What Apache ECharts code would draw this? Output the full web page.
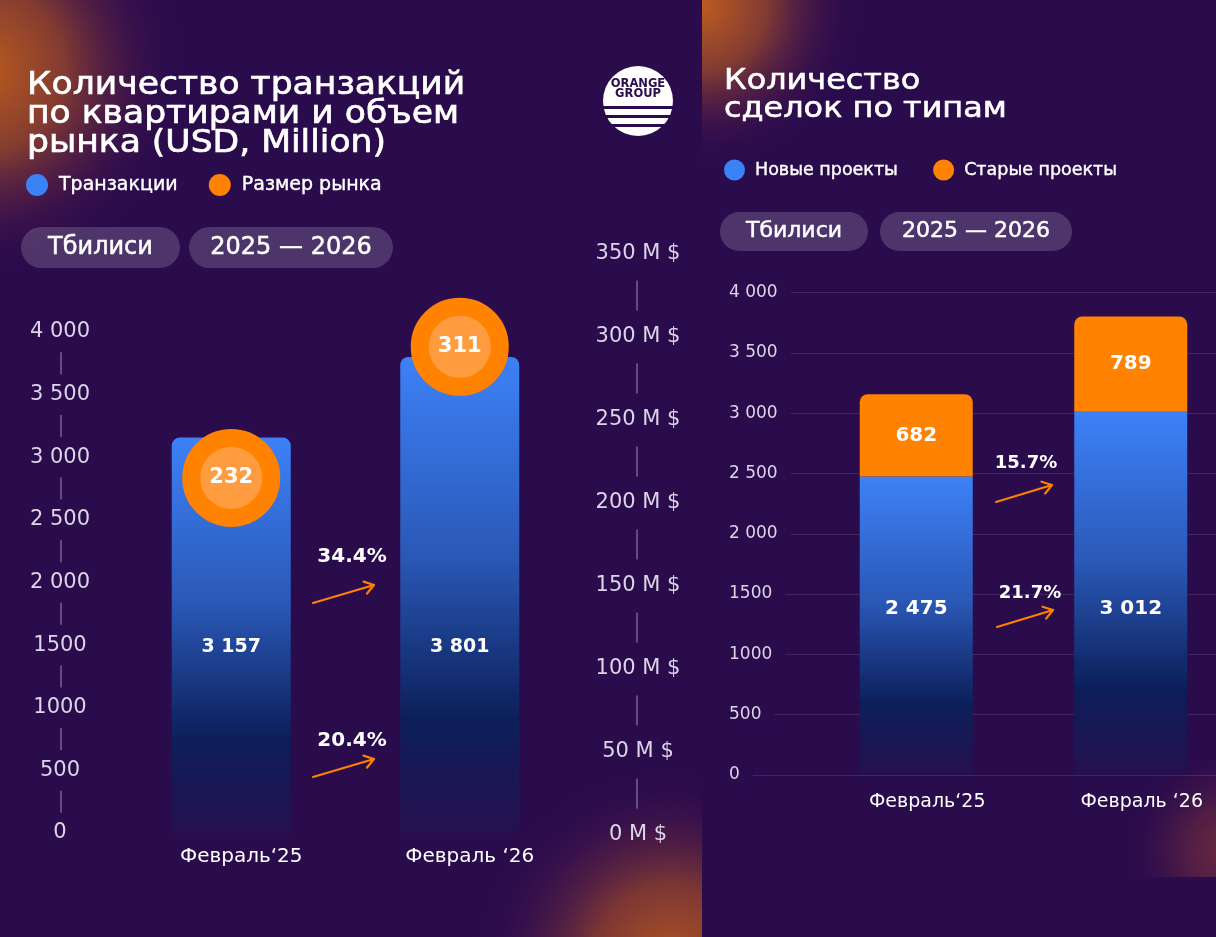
<!DOCTYPE html>
<html>
<head>
<meta charset="utf-8">
<title>Orange Group - сделки</title>
<script src="https://cdn.jsdelivr.net/npm/echarts@6.0.0/dist/echarts.min.js"></script>
<style>
html, body { margin: 0; padding: 0; background: #2a0b4c; }
#chart { width: 1216px; height: 937px; }
</style>
</head>
<body>
<div id="chart"></div>
<script>
// data
var months = ['Февраль‘25', 'Февраль ‘26'];
var transactions = [3157, 3801];
var marketSize = [232, 311];
var newProjects = [2475, 3012];
var oldProjects = [682, 789];
var leftGrowth = ['34.4%', '20.4%'];
var rightGrowth = ['15.7%', '21.7%'];
var countTicks = ['0', '500', '1000', '1500', '2 000', '2 500', '3 000', '3 500', '4 000'];
var usdTicks = ['0 M $', '50 M $', '100 M $', '150 M $', '200 M $', '250 M $', '300 M $', '350 M $'];

var FONT = 'DejaVu Sans';
var BG = '#2a0b4c';
var ORANGE = '#ff8200';
var BLUE = '#3b82f6';
var LABEL = '#dcd5e8';
var PILL = 'rgba(255,255,255,0.17)';

function spaced(v) {
	return String(v).replace(/\B(?=(\d{3})+(?!\d))/g, ' ');
}

function barGradient() {
	return new echarts.graphic.LinearGradient(0, 0, 0, 1, [
		{ offset: 0, color: '#3d81f7' },
		{ offset: 0.42, color: '#2a58b6' },
		{ offset: 0.76, color: '#0c1f5a' },
		{ offset: 1, color: '#26104f' }
	]);
}

// soft orange light in the panel corners
function glow(x, y, w, h, cx, cy, r, rgb, strength) {
	return {
		type: 'rect', z: -5, silent: true,
		shape: { x: x, y: y, width: w, height: h },
		style: {
			fill: new echarts.graphic.RadialGradient(cx, cy, r, [
				{ offset: 0, color: 'rgba(' + rgb + ',' + strength + ')' },
				{ offset: 0.4, color: 'rgba(' + rgb + ',' + (strength * 0.6) + ')' },
				{ offset: 0.75, color: 'rgba(110,40,70,' + (strength * 0.22) + ')' },
				{ offset: 1, color: 'rgba(42,11,76,0)' }
			], true)
		}
	};
}

function pill(x, y, w, h, text, size) {
	return [
		{ type: 'rect', z: 10, shape: { x: x, y: y, width: w, height: h, r: h / 2 }, style: { fill: PILL } },
		{ type: 'text', z: 11, x: x + w / 2, y: y + h / 2, style: { text: text, fill: '#fff', stroke: '#fff', lineWidth: 0.5,
			fontSize: size, fontFamily: FONT, align: 'center', verticalAlign: 'middle' } }
	];
}

function growthNote(text, tx, ty, size, x1, y1, x2, y2) {
	var a = Math.atan2(y2 - y1, x2 - x1), h = 11, s = 0.6;
	var st = { stroke: ORANGE, lineWidth: 2.2, fill: null, lineCap: 'round', lineJoin: 'round' };
	return [
		{ type: 'text', z: 11, x: tx, y: ty, style: { text: text, fill: '#fff', fontSize: size, fontWeight: 'bold', fontFamily: FONT, align: 'center', verticalAlign: 'middle' } },
		{ type: 'polyline', z: 11, shape: { points: [[x1, y1], [x2, y2]] }, style: st },
		{ type: 'polyline', z: 11, shape: { points: [
			[x2 - h * Math.cos(a - s), y2 - h * Math.sin(a - s)], [x2, y2],
			[x2 - h * Math.cos(a + s), y2 - h * Math.sin(a + s)]] }, style: st }
	];
}

var chart = echarts.init(document.getElementById('chart'), null, { renderer: 'canvas', width: 1216, height: 937 });

var legendText = { color: '#fff', fontFamily: FONT, textBorderColor: '#fff', textBorderWidth: 0.4 };

var option = {
	backgroundColor: BG,
	animation: false,
	textStyle: { fontFamily: FONT },
	legend: [{
		left: 21, top: 169, icon: 'circle', itemWidth: 22, itemHeight: 22, itemGap: 31, selectedMode: false,
		textStyle: Object.assign({ fontSize: 19, padding: [0, 0, 0, 6] }, legendText),
		data: [{ name: 'Транзакции', itemStyle: { color: BLUE } }, { name: 'Размер рынка', itemStyle: { color: ORANGE, borderWidth: 0 } }]
	}, {
		left: 719, top: 154.5, icon: 'circle', itemWidth: 21, itemHeight: 21, itemGap: 35, selectedMode: false,
		textStyle: Object.assign({ fontSize: 17.5, padding: [0, 0, 0, 5] }, legendText),
		data: [{ name: 'Новые проекты', itemStyle: { color: BLUE } }, { name: 'Старые проекты', itemStyle: { color: ORANGE } }]
	}],
	grid: [
		{ left: 117, width: 457, top: 332, bottom: 104, outerBoundsMode: 'none', containLabel: false },
		{ left: 117, width: 457, top: 254, bottom: 102, outerBoundsMode: 'none', containLabel: false },
		{ left: 729, right: 0, top: 292.5, bottom: 162, outerBoundsMode: 'none', containLabel: false },
		{ left: 809, width: 429, top: 292.5, bottom: 162, outerBoundsMode: 'none', containLabel: false }
	],
	xAxis: [
		{ gridIndex: 0, type: 'category', data: months, axisLine: { show: false }, axisTick: { show: false },
			axisLabel: { color: '#fff', fontSize: 20, margin: 14, padding: [0, 0, 0, 20] } },
		{ gridIndex: 1, type: 'category', data: months, show: false },
		{ gridIndex: 2, type: 'category', data: months, show: false },
		{ gridIndex: 3, type: 'category', data: months, axisLine: { show: false }, axisTick: { show: false },
			axisLabel: { color: '#fff', fontSize: 19, margin: 18, padding: [0, 0, 0, 22] } }
	],
	yAxis: [
		{ gridIndex: 0, type: 'value', min: 0, max: 4000, interval: 500, splitLine: { show: false },
			axisLine: { show: false }, axisTick: { show: false },
			axisLabel: { color: LABEL, fontSize: 21, align: 'center', margin: 57,
				formatter: function (v) { return countTicks[Math.round(v / 500)] || ''; } } },
		{ gridIndex: 1, type: 'value', position: 'right', min: 0, max: 350, interval: 50, splitLine: { show: false },
			axisLine: { show: false }, axisTick: { show: false },
			axisLabel: { color: LABEL, fontSize: 21, align: 'center', margin: 64,
				formatter: function (v) { return usdTicks[Math.round(v / 50)] || ''; } } },
		{ gridIndex: 2, type: 'value', min: 0, max: 4000, interval: 500,
			axisLine: { show: false }, axisTick: { show: false },
			splitLine: { show: true, lineStyle: { color: 'rgba(255,255,255,0.11)', width: 1 } },
			axisLabel: { inside: true, margin: 0, color: LABEL, fontSize: 17, align: 'left',
				backgroundColor: BG, padding: [3, 13, 3, 0],
				formatter: function (v) { return countTicks[Math.round(v / 500)] || ''; } } },
		{ gridIndex: 3, type: 'value', min: 0, max: 4000, show: false, splitLine: { show: false } }
	],
	series: [{
		name: 'Транзакции', type: 'bar', xAxisIndex: 0, yAxisIndex: 0, barWidth: 119, z: 2,
		data: transactions,
		itemStyle: { color: barGradient(), borderRadius: [8, 8, 0, 0] },
		label: { show: true, position: 'insideBottom', distance: 176, color: '#fff', fontSize: 19, fontWeight: 'bold',
			formatter: function (p) { return spaced(p.value); } }
	}, {
		name: 'Размер рынка', type: 'scatter', xAxisIndex: 1, yAxisIndex: 1, z: 4,
		data: marketSize, symbolSize: 80, symbolOffset: [0, 28],
		itemStyle: { color: '#ff9c40', borderColor: ORANGE, borderWidth: 18, opacity: 1 },
		label: { show: true, position: 'inside', color: '#fff', fontSize: 21, fontWeight: 'bold' }
	}, {
		name: 'Новые проекты', type: 'bar', xAxisIndex: 3, yAxisIndex: 3, stack: 'deals', barWidth: 113,
		data: newProjects,
		itemStyle: { color: barGradient() },
		label: { show: true, position: 'insideBottom', distance: 156, color: '#fff', fontSize: 20, fontWeight: 'bold',
			formatter: function (p) { return spaced(p.value); } }
	}, {
		name: 'Старые проекты', type: 'bar', xAxisIndex: 3, yAxisIndex: 3, stack: 'deals', barWidth: 113,
		data: oldProjects,
		itemStyle: { color: ORANGE, borderRadius: [8, 8, 0, 0] },
		label: { show: true, position: 'inside', color: '#fff', fontSize: 20, fontWeight: 'bold',
			formatter: function (p) { return spaced(p.value); } }
	}]
};

chart.setOption(option);

// short dividers between the tick labels of the left panel's two axes
function dividers(gridIndex, step, top, x, len) {
	var out = [];
	for (var v = 0; v < top; v += step) {
		var a = chart.convertToPixel({ gridIndex: gridIndex }, [0, v])[1];
		var b = chart.convertToPixel({ gridIndex: gridIndex }, [0, v + step])[1];
		var m = (a + b) / 2;
		out.push({ type: 'line', z: 10, shape: { x1: x, y1: m - len / 2, x2: x, y2: m + len / 2 },
			style: { stroke: 'rgba(220,210,235,0.55)', lineWidth: 1.2 } });
	}
	return out;
}

var els = [
	glow(0, 0, 330, 330, -20, 70, 210, '190,92,30', 1),
	glow(470, 700, 232, 237, 672, 965, 200, '178,84,34', 1),
	glow(702, 0, 240, 220, 700, 5, 165, '190,92,32', 1),
	glow(1100, 760, 116, 117, 1228, 850, 105, '150,62,55', 0.6),
	{ type: 'text', z: 10, x: 27, y: 71, scaleX: 1.08,
		style: { text: 'Количество транзакций\nпо квартирами и объем\nрынка (USD, Million)', fill: '#fff', stroke: '#fff', lineWidth: 0.7,
			fontSize: 32, fontFamily: FONT, lineHeight: 29, verticalAlign: 'top' } },
	{ type: 'text', z: 10, x: 724, y: 68, scaleX: 1.10,
		style: { text: 'Количество\nсделок по типам', fill: '#fff', stroke: '#fff', lineWidth: 0.6,
			fontSize: 29, fontFamily: FONT, lineHeight: 27.5, verticalAlign: 'top' } },
	// logo
	{ type: 'circle', z: 10, shape: { cx: 638, cy: 101, r: 35 }, style: { fill: '#fff' } },
	{ type: 'rect', z: 11, shape: { x: 600, y: 106, width: 76, height: 3 }, style: { fill: BG } },
	{ type: 'rect', z: 11, shape: { x: 600, y: 115, width: 76, height: 3 }, style: { fill: BG } },
	{ type: 'rect', z: 11, shape: { x: 600, y: 124, width: 76, height: 3 }, style: { fill: BG } },
	{ type: 'text', z: 12, x: 638, y: 89, style: { text: 'ORANGE\nGROUP', fill: BG, fontSize: 11.5, fontWeight: 'bold',
		fontFamily: FONT, lineHeight: 10.5, align: 'center', verticalAlign: 'middle' } }
];
els = els.concat(pill(21, 227, 159, 41, 'Тбилиси', 24));
els = els.concat(pill(189, 227, 204, 41, '2025 — 2026', 24));
els = els.concat(pill(720, 212, 148, 39, 'Тбилиси', 22));
els = els.concat(pill(880, 212, 192, 39, '2025 — 2026', 22));
els = els.concat(growthNote(leftGrowth[0], 352, 557, 20, 313, 603, 374, 585));
els = els.concat(growthNote(leftGrowth[1], 352, 741, 20, 313, 777, 374, 759));
els = els.concat(growthNote(rightGrowth[0], 1026, 463, 18, 996, 502, 1052, 485));
els = els.concat(growthNote(rightGrowth[1], 1030, 593, 18, 997, 627, 1053, 610));
els = els.concat(dividers(0, 500, 4000, 61, 22));
els = els.concat(dividers(1, 50, 350, 637, 30));

chart.setOption({ graphic: { elements: els } });
</script>
</body>
</html>
